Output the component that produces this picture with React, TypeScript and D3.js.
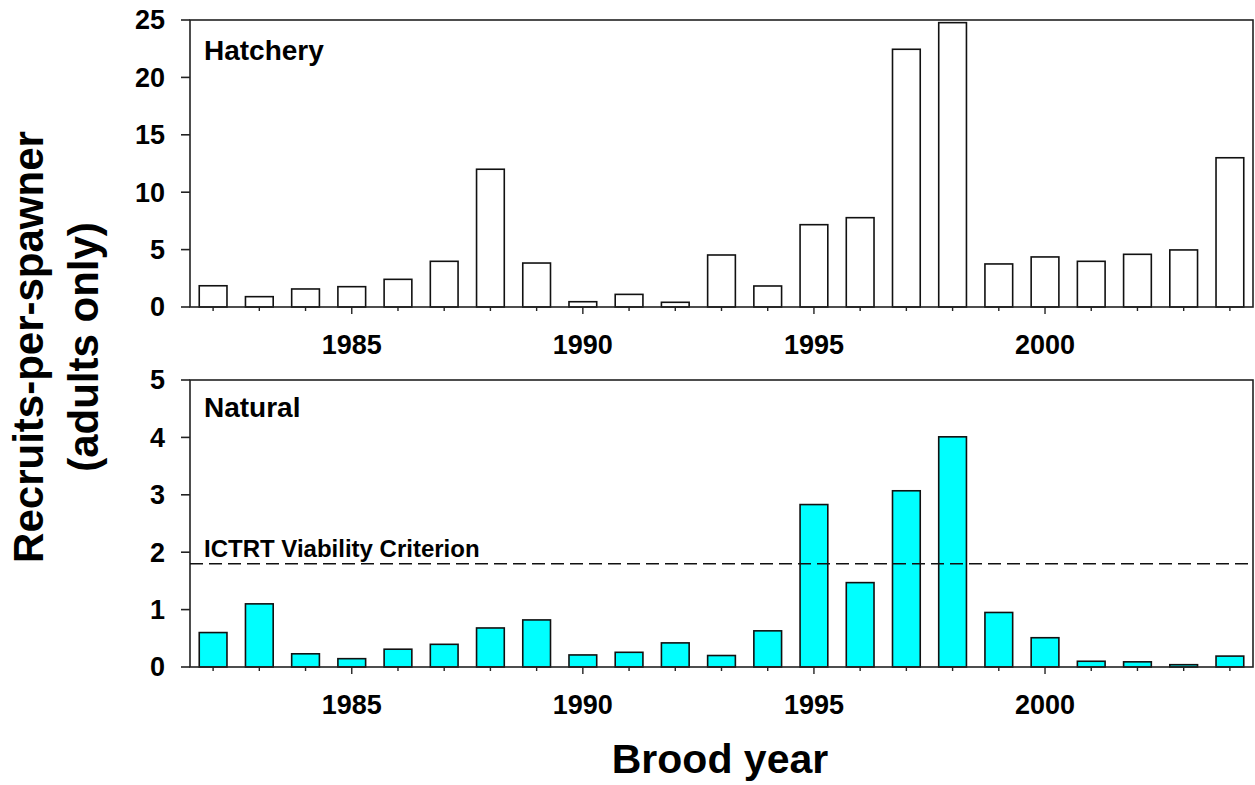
import React from "react";
import * as d3 from "d3";

const years = d3.range(1982, 2005);
const hatchery = [1.85, 0.9, 1.57, 1.77, 2.41, 3.98, 12.0, 3.83, 0.46, 1.1, 0.41, 4.53, 1.83, 7.17, 7.78, 22.45, 24.77, 3.75, 4.36, 3.98, 4.59, 4.97, 13.0];
const natural = [0.6, 1.1, 0.23, 0.145, 0.31, 0.395, 0.68, 0.82, 0.21, 0.256, 0.42, 0.2, 0.63, 2.83, 1.47, 3.07, 4.01, 0.95, 0.51, 0.1, 0.09, 0.04, 0.19];
const hatcheryTicks = [0, 5, 10, 15, 20, 25];
const naturalTicks = [0, 1, 2, 3, 4, 5];
const majorYears = [1985, 1990, 1995, 2000];
const criterion = 1.8;

const W = 1255, H = 785;
const left = 190, right = 1253;
const FONT = "'Liberation Sans', Arial, Helvetica, sans-serif";

const x = d3.scaleLinear().domain([1981.5, 2004.5]).range([left, right]);
const barW = (x(1983) - x(1982)) * 0.6;

function Panel({ top, bottom, values, ticks, max, fill, label, labelY }: any) {
  const y = d3.scaleLinear().domain([0, max]).range([bottom, top]);
  return (
    <g>
      {values.map((v: number, i: number) => (
        <rect key={i} x={x(years[i]) - barW / 2} y={y(v)} width={barW} height={y(0) - y(v)}
          fill={fill} stroke="#111" strokeWidth={1.6} />
      ))}
      <rect x={left} y={top} width={right - left} height={bottom - top} fill="none" stroke="#222" strokeWidth={1.6} />
      {ticks.map((t: number) => (
        <g key={t}>
          <line x1={left - 9} x2={left} y1={y(t)} y2={y(t)} stroke="#222" strokeWidth={1.6} />
          <text x={165} y={y(t)} dy="0.35em" textAnchor="end" fontFamily={FONT} fontWeight="bold" fontSize={27} fill="#000">{t}</text>
        </g>
      ))}
      {years.map((yr) => {
        const major = majorYears.includes(yr);
        return <line key={yr} x1={x(yr)} x2={x(yr)} y1={bottom} y2={bottom + (major ? 7 : 4)} stroke="#222" strokeWidth={1.4} />;
      })}
      {majorYears.map((yr) => (
        <text key={yr} x={x(yr)} y={bottom + 47} textAnchor="middle" fontFamily={FONT} fontWeight="bold" fontSize={27} fill="#000">{yr}</text>
      ))}
      <text x={204} y={labelY} fontFamily={FONT} fontWeight="bold" fontSize={28} fill="#000">{label}</text>
    </g>
  );
}

export default function App() {
  const yN = d3.scaleLinear().domain([0, 5]).range([667, 380]);
  return (
    <svg width={W} height={H} style={{ position: "absolute", left: 0, top: 0, background: "#fff" }}>
      <rect width={W} height={H} fill="#fff" />
      <Panel top={20} bottom={307} values={hatchery} ticks={hatcheryTicks} max={25} fill="#fff" label="Hatchery" labelY={60} />
      <Panel top={380} bottom={667} values={natural} ticks={naturalTicks} max={5} fill="#00ffff" label="Natural" labelY={417} />
      <line x1={left} x2={right} y1={yN(criterion)} y2={yN(criterion)} stroke="#111" strokeWidth={1.6} strokeDasharray="13,6" />
      <text x={204} y={557} fontFamily={FONT} fontWeight="bold" fontSize={24} fill="#000">ICTRT Viability Criterion</text>
      <text x={720} y={773} textAnchor="middle" fontFamily={FONT} fontWeight="bold" fontSize={41} fill="#000">Brood year</text>
      <g transform="translate(0,347) rotate(-90)">
        <text x={0} y={43} textAnchor="middle" fontFamily={FONT} fontWeight="bold" fontSize={42} fill="#000">Recruits-per-spawner</text>
        <text x={0} y={98} textAnchor="middle" fontFamily={FONT} fontWeight="bold" fontSize={42} fill="#000">(adults only)</text>
      </g>
    </svg>
  );
}
